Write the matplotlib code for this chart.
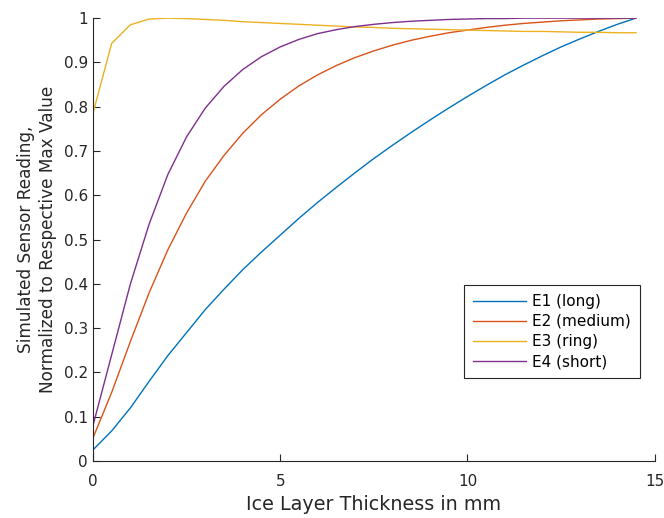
import numpy as np
import matplotlib.pyplot as plt

# ice thickness in mm, sampled every 0.5 mm
thickness = np.arange(0, 14.51, 0.5)

e1_long = [0.025, 0.068, 0.12, 0.18, 0.238, 0.29, 0.342, 0.388, 0.432, 0.472,
           0.51, 0.548, 0.584, 0.618, 0.651, 0.683, 0.713, 0.742, 0.77, 0.797,
           0.823, 0.848, 0.872, 0.894, 0.915, 0.935, 0.953, 0.97, 0.986, 1.0]
e2_medium = [0.052, 0.155, 0.27, 0.38, 0.477, 0.56, 0.632, 0.69, 0.74, 0.782,
             0.817, 0.847, 0.872, 0.893, 0.911, 0.926, 0.939, 0.95, 0.959, 0.967,
             0.973, 0.979, 0.984, 0.988, 0.991, 0.994, 0.996, 0.998, 0.999, 1.0]
e3_ring = [0.785, 0.943, 0.985, 0.998, 1.0, 0.999, 0.997, 0.995, 0.992, 0.99,
           0.988, 0.986, 0.984, 0.982, 0.98, 0.979, 0.977, 0.976, 0.975, 0.974,
           0.973, 0.972, 0.971, 0.97, 0.97, 0.969, 0.968, 0.968, 0.967, 0.967]
e4_short = [0.08, 0.24, 0.4, 0.535, 0.647, 0.732, 0.797, 0.846, 0.884, 0.913,
            0.935, 0.952, 0.965, 0.974, 0.981, 0.986, 0.99, 0.993, 0.995, 0.997,
            0.998, 0.999, 0.999, 1.0, 1.0, 1.0, 1.0, 1.0, 1.0, 1.0]

labels = ['E1 (long)', 'E2 (medium)', 'E3 (ring)', 'E4 (short)']
colors = ['#0072BD', '#D95319', '#EDB120', '#7E2F8E']

plt.rcParams['font.family'] = ['DejaVu Sans']
fig = plt.figure(figsize=(6.64, 5.18), dpi=100)
ax = fig.add_axes([0.14, 0.11, 0.846, 0.855])

for ys, lab, c in zip([e1_long, e2_medium, e3_ring, e4_short], labels, colors):
    ax.plot(thickness, ys, color=c, lw=1.0, label=lab)

ax.set_xlim(0, 15)
ax.set_ylim(0, 1)
ax.set_xticks([0, 5, 10, 15])
ax.set_yticks(np.arange(0, 1.01, 0.1))
ax.set_yticklabels(['0', '0.1', '0.2', '0.3', '0.4', '0.5', '0.6', '0.7', '0.8', '0.9', '1'])

for s in ['top', 'right']:
    ax.spines[s].set_visible(False)
for s in ['left', 'bottom']:
    ax.spines[s].set_color('#262626')
    ax.spines[s].set_linewidth(0.8)
ax.tick_params(direction='in', length=5, width=0.8, color='#262626',
               labelcolor='#262626', labelsize=11)
ax.tick_params(axis='x', pad=9)

ax.set_xlabel('Ice Layer Thickness in mm', fontsize=13.8, color='#262626',
              labelpad=5)
ax.set_ylabel('Simulated Sensor Reading,\nNormalized to Respective Max Value',
              fontsize=12.2, color='#262626', linespacing=1.3, labelpad=5)

leg = ax.legend(loc='lower right', bbox_to_anchor=(0.973, 0.187), fontsize=11,
                fancybox=False, framealpha=1, edgecolor='#262626',
                handlelength=3.5, borderpad=0.6, labelspacing=0.33,
                handletextpad=0.35, borderaxespad=0)
leg.get_frame().set_linewidth(0.8)

fig.savefig('out.png', dpi=100)
